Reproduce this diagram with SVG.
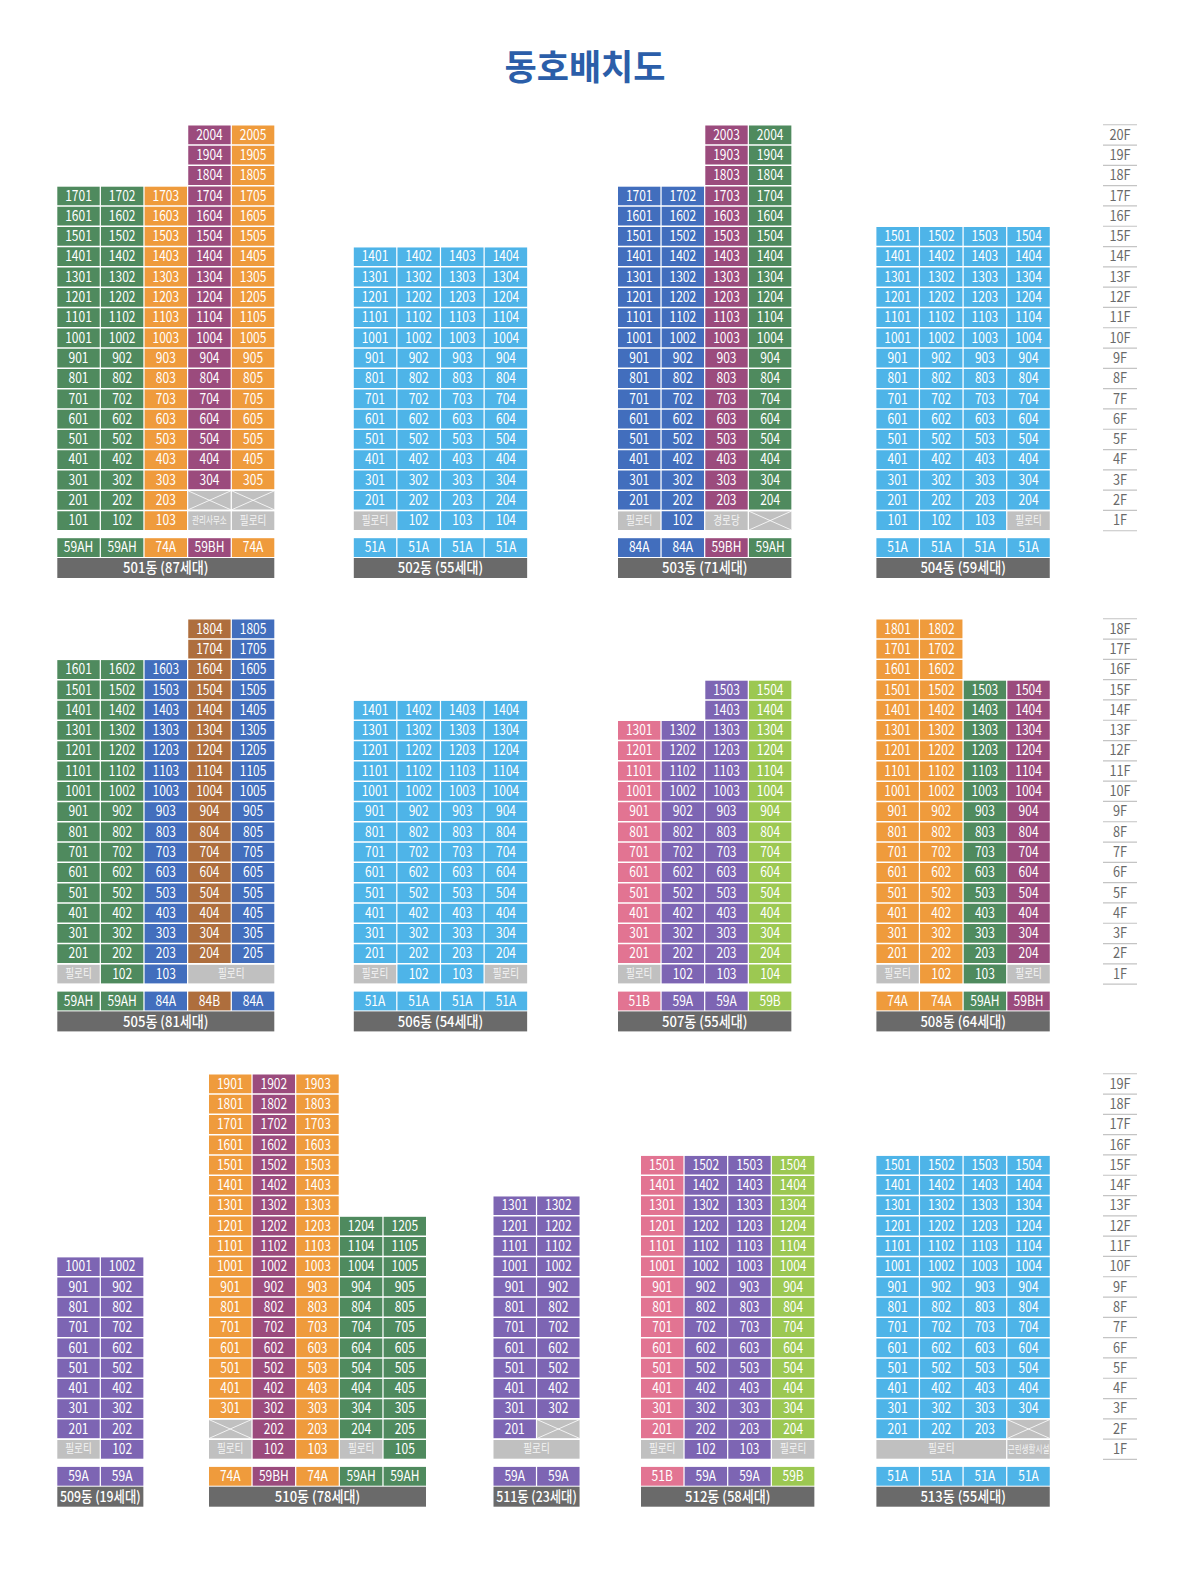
<svg xmlns="http://www.w3.org/2000/svg" xmlns:xlink="http://www.w3.org/1999/xlink" width="1190" height="1576" viewBox="0 0 1190 1576">
<style>
.G{fill:#4f8a5e}.O{fill:#ef9b3c}.M{fill:#9b4b7d}.L{fill:#4eb4e8}.B{fill:#426ebd}.R{fill:#ae6e3d}.V{fill:#7d65b3}.P{fill:#e27492}.Y{fill:#9cc852}.X{fill:#c0c0c0}.K{fill:#6a6a6a}
rect{width:42.4px}
.gap{fill:none;stroke:#fff;stroke-width:1.5}
.fl{stroke:#c4c4c4;stroke-width:1.2}
.bd{font-family:"Noto Sans CJK KR","Liberation Sans",sans-serif;font-size:15px;fill:#fff;text-anchor:middle}
.s{font-size:12px;fill:#f4f4f4}
.ss{font-size:10.5px;fill:#f4f4f4}
.h{font-size:14.5px;font-weight:500}
.fz{font-family:"Noto Sans CJK KR","Liberation Sans",sans-serif;font-size:14.5px;fill:#6a6a6a;text-anchor:middle}
</style>
<defs>
<g id="xb"><rect width="42.4" height="18.8" fill="#c0c0c0"/><path d="M0 0L42.4 18.8M42.4 0L0 18.8" stroke="#fff" stroke-width="0.8"/></g>
</defs>
<rect width="1190" height="1576" fill="#fff" style="width:1190px"/>
<g id="title"><text x="585" y="80" style="font-family:'Noto Sans CJK KR',sans-serif;font-size:35px;font-weight:700;fill:#2b5ea9;text-anchor:middle">동호배치도</text></g>

<!-- 501 -->
<g id="b501" class="bd">
<rect class="G" x="57.3" y="186.4" height="343.6"/>
<rect class="G" x="100.95" y="186.4" height="343.6"/>
<rect class="O" x="144.6" y="186.4" height="343.6"/>
<rect class="M" x="188.25" y="125.5" height="363.9"/>
<rect class="X" x="188.25" y="511.2" height="18.8"/>
<use xlink:href="#xb" x="188.25" y="490.9"/>
<rect class="O" x="231.9" y="125.5" height="363.9"/>
<rect class="X" x="231.9" y="511.2" height="18.8"/>
<use xlink:href="#xb" x="231.9" y="490.9"/>
<rect class="G" x="57.3" y="538.2" height="18.8"/>
<rect class="G" x="100.95" y="538.2" height="18.8"/>
<rect class="O" x="144.6" y="538.2" height="18.8"/>
<rect class="M" x="188.25" y="538.2" height="18.8"/>
<rect class="O" x="231.9" y="538.2" height="18.8"/>
<rect class="K" x="57.3" y="558" style="width:217px" height="20"/>
<g transform="translate(78.5 0)scale(.8 1)"><text y="525.4">101</text><text y="505.1">201</text><text y="484.8">301</text><text y="464.5">401</text><text y="444.2">501</text><text y="423.9">601</text><text y="403.6">701</text><text y="383.3">801</text><text y="363">901</text><text y="342.7">1001</text><text y="322.4">1101</text><text y="302.1">1201</text><text y="281.8">1301</text><text y="261.5">1401</text><text y="241.2">1501</text><text y="220.9">1601</text><text y="200.6">1701</text><text y="552.4">59AH</text></g>
<g transform="translate(122.15 0)scale(.8 1)"><text y="525.4">102</text><text y="505.1">202</text><text y="484.8">302</text><text y="464.5">402</text><text y="444.2">502</text><text y="423.9">602</text><text y="403.6">702</text><text y="383.3">802</text><text y="363">902</text><text y="342.7">1002</text><text y="322.4">1102</text><text y="302.1">1202</text><text y="281.8">1302</text><text y="261.5">1402</text><text y="241.2">1502</text><text y="220.9">1602</text><text y="200.6">1702</text><text y="552.4">59AH</text></g>
<g transform="translate(165.8 0)scale(.8 1)"><text y="525.4">103</text><text y="505.1">203</text><text y="484.8">303</text><text y="464.5">403</text><text y="444.2">503</text><text y="423.9">603</text><text y="403.6">703</text><text y="383.3">803</text><text y="363">903</text><text y="342.7">1003</text><text y="322.4">1103</text><text y="302.1">1203</text><text y="281.8">1303</text><text y="261.5">1403</text><text y="241.2">1503</text><text y="220.9">1603</text><text y="200.6">1703</text><text y="552.4">74A</text></g>
<g transform="translate(209.45 0)scale(.72 1)"><text class="ss" y="524.2">관리사무소</text></g>
<g transform="translate(209.45 0)scale(.8 1)"><text y="484.8">304</text><text y="464.5">404</text><text y="444.2">504</text><text y="423.9">604</text><text y="403.6">704</text><text y="383.3">804</text><text y="363">904</text><text y="342.7">1004</text><text y="322.4">1104</text><text y="302.1">1204</text><text y="281.8">1304</text><text y="261.5">1404</text><text y="241.2">1504</text><text y="220.9">1604</text><text y="200.6">1704</text><text y="180.3">1804</text><text y="160">1904</text><text y="139.7">2004</text><text y="552.4">59BH</text></g>
<g transform="translate(253.1 0)scale(.8 1)"><text class="s" y="524.6">필로티</text><text y="484.8">305</text><text y="464.5">405</text><text y="444.2">505</text><text y="423.9">605</text><text y="403.6">705</text><text y="383.3">805</text><text y="363">905</text><text y="342.7">1005</text><text y="322.4">1105</text><text y="302.1">1205</text><text y="281.8">1305</text><text y="261.5">1405</text><text y="241.2">1505</text><text y="220.9">1605</text><text y="200.6">1705</text><text y="180.3">1805</text><text y="160">1905</text><text y="139.7">2005</text><text y="552.4">74A</text></g>
<text class="h" transform="translate(165.8 0)scale(.9 1)" y="573.2">501동 (87세대)</text>
</g>

<!-- 502 -->
<g id="b502" class="bd">
<rect class="L" x="353.8" y="247.3" height="262.4"/>
<rect class="X" x="353.8" y="511.2" height="18.8"/>
<rect class="L" x="397.45" y="247.3" height="282.7"/>
<rect class="L" x="441.1" y="247.3" height="282.7"/>
<rect class="L" x="484.75" y="247.3" height="282.7"/>
<rect class="L" x="353.8" y="538.2" height="18.8"/>
<rect class="L" x="397.45" y="538.2" height="18.8"/>
<rect class="L" x="441.1" y="538.2" height="18.8"/>
<rect class="L" x="484.75" y="538.2" height="18.8"/>
<rect class="K" x="353.8" y="558" style="width:173.35px" height="20"/>
<g transform="translate(375 0)scale(.8 1)"><text class="s" y="524.6">필로티</text><text y="505.1">201</text><text y="484.8">301</text><text y="464.5">401</text><text y="444.2">501</text><text y="423.9">601</text><text y="403.6">701</text><text y="383.3">801</text><text y="363">901</text><text y="342.7">1001</text><text y="322.4">1101</text><text y="302.1">1201</text><text y="281.8">1301</text><text y="261.5">1401</text><text y="552.4">51A</text></g>
<g transform="translate(418.65 0)scale(.8 1)"><text y="525.4">102</text><text y="505.1">202</text><text y="484.8">302</text><text y="464.5">402</text><text y="444.2">502</text><text y="423.9">602</text><text y="403.6">702</text><text y="383.3">802</text><text y="363">902</text><text y="342.7">1002</text><text y="322.4">1102</text><text y="302.1">1202</text><text y="281.8">1302</text><text y="261.5">1402</text><text y="552.4">51A</text></g>
<g transform="translate(462.3 0)scale(.8 1)"><text y="525.4">103</text><text y="505.1">203</text><text y="484.8">303</text><text y="464.5">403</text><text y="444.2">503</text><text y="423.9">603</text><text y="403.6">703</text><text y="383.3">803</text><text y="363">903</text><text y="342.7">1003</text><text y="322.4">1103</text><text y="302.1">1203</text><text y="281.8">1303</text><text y="261.5">1403</text><text y="552.4">51A</text></g>
<g transform="translate(505.95 0)scale(.8 1)"><text y="525.4">104</text><text y="505.1">204</text><text y="484.8">304</text><text y="464.5">404</text><text y="444.2">504</text><text y="423.9">604</text><text y="403.6">704</text><text y="383.3">804</text><text y="363">904</text><text y="342.7">1004</text><text y="322.4">1104</text><text y="302.1">1204</text><text y="281.8">1304</text><text y="261.5">1404</text><text y="552.4">51A</text></g>
<text class="h" transform="translate(440.5 0)scale(.9 1)" y="573.2">502동 (55세대)</text>
</g>

<!-- 503 -->
<g id="b503" class="bd">
<rect class="B" x="618" y="186.4" height="323.3"/>
<rect class="X" x="618" y="511.2" height="18.8"/>
<rect class="B" x="661.65" y="186.4" height="343.6"/>
<rect class="M" x="705.3" y="125.5" height="384.2"/>
<rect class="X" x="705.3" y="511.2" height="18.8"/>
<rect class="G" x="748.95" y="125.5" height="384.2"/>
<use xlink:href="#xb" x="748.95" y="511.2"/>
<rect class="B" x="618" y="538.2" height="18.8"/>
<rect class="B" x="661.65" y="538.2" height="18.8"/>
<rect class="M" x="705.3" y="538.2" height="18.8"/>
<rect class="G" x="748.95" y="538.2" height="18.8"/>
<rect class="K" x="618" y="558" style="width:173.35px" height="20"/>
<g transform="translate(639.2 0)scale(.8 1)"><text class="s" y="524.6">필로티</text><text y="505.1">201</text><text y="484.8">301</text><text y="464.5">401</text><text y="444.2">501</text><text y="423.9">601</text><text y="403.6">701</text><text y="383.3">801</text><text y="363">901</text><text y="342.7">1001</text><text y="322.4">1101</text><text y="302.1">1201</text><text y="281.8">1301</text><text y="261.5">1401</text><text y="241.2">1501</text><text y="220.9">1601</text><text y="200.6">1701</text><text y="552.4">84A</text></g>
<g transform="translate(682.85 0)scale(.8 1)"><text y="525.4">102</text><text y="505.1">202</text><text y="484.8">302</text><text y="464.5">402</text><text y="444.2">502</text><text y="423.9">602</text><text y="403.6">702</text><text y="383.3">802</text><text y="363">902</text><text y="342.7">1002</text><text y="322.4">1102</text><text y="302.1">1202</text><text y="281.8">1302</text><text y="261.5">1402</text><text y="241.2">1502</text><text y="220.9">1602</text><text y="200.6">1702</text><text y="552.4">84A</text></g>
<g transform="translate(726.5 0)scale(.8 1)"><text class="s" y="524.6">경로당</text><text y="505.1">203</text><text y="484.8">303</text><text y="464.5">403</text><text y="444.2">503</text><text y="423.9">603</text><text y="403.6">703</text><text y="383.3">803</text><text y="363">903</text><text y="342.7">1003</text><text y="322.4">1103</text><text y="302.1">1203</text><text y="281.8">1303</text><text y="261.5">1403</text><text y="241.2">1503</text><text y="220.9">1603</text><text y="200.6">1703</text><text y="180.3">1803</text><text y="160">1903</text><text y="139.7">2003</text><text y="552.4">59BH</text></g>
<g transform="translate(770.15 0)scale(.8 1)"><text y="505.1">204</text><text y="484.8">304</text><text y="464.5">404</text><text y="444.2">504</text><text y="423.9">604</text><text y="403.6">704</text><text y="383.3">804</text><text y="363">904</text><text y="342.7">1004</text><text y="322.4">1104</text><text y="302.1">1204</text><text y="281.8">1304</text><text y="261.5">1404</text><text y="241.2">1504</text><text y="220.9">1604</text><text y="200.6">1704</text><text y="180.3">1804</text><text y="160">1904</text><text y="139.7">2004</text><text y="552.4">59AH</text></g>
<text class="h" transform="translate(704.7 0)scale(.9 1)" y="573.2">503동 (71세대)</text>
</g>

<!-- 504 -->
<g id="b504" class="bd">
<rect class="L" x="876.4" y="227" height="303"/>
<rect class="L" x="920.05" y="227" height="303"/>
<rect class="L" x="963.7" y="227" height="303"/>
<rect class="L" x="1007.35" y="227" height="282.7"/>
<rect class="X" x="1007.35" y="511.2" height="18.8"/>
<rect class="L" x="876.4" y="538.2" height="18.8"/>
<rect class="L" x="920.05" y="538.2" height="18.8"/>
<rect class="L" x="963.7" y="538.2" height="18.8"/>
<rect class="L" x="1007.35" y="538.2" height="18.8"/>
<rect class="K" x="876.4" y="558" style="width:173.35px" height="20"/>
<g transform="translate(897.6 0)scale(.8 1)"><text y="525.4">101</text><text y="505.1">201</text><text y="484.8">301</text><text y="464.5">401</text><text y="444.2">501</text><text y="423.9">601</text><text y="403.6">701</text><text y="383.3">801</text><text y="363">901</text><text y="342.7">1001</text><text y="322.4">1101</text><text y="302.1">1201</text><text y="281.8">1301</text><text y="261.5">1401</text><text y="241.2">1501</text><text y="552.4">51A</text></g>
<g transform="translate(941.25 0)scale(.8 1)"><text y="525.4">102</text><text y="505.1">202</text><text y="484.8">302</text><text y="464.5">402</text><text y="444.2">502</text><text y="423.9">602</text><text y="403.6">702</text><text y="383.3">802</text><text y="363">902</text><text y="342.7">1002</text><text y="322.4">1102</text><text y="302.1">1202</text><text y="281.8">1302</text><text y="261.5">1402</text><text y="241.2">1502</text><text y="552.4">51A</text></g>
<g transform="translate(984.9 0)scale(.8 1)"><text y="525.4">103</text><text y="505.1">203</text><text y="484.8">303</text><text y="464.5">403</text><text y="444.2">503</text><text y="423.9">603</text><text y="403.6">703</text><text y="383.3">803</text><text y="363">903</text><text y="342.7">1003</text><text y="322.4">1103</text><text y="302.1">1203</text><text y="281.8">1303</text><text y="261.5">1403</text><text y="241.2">1503</text><text y="552.4">51A</text></g>
<g transform="translate(1028.55 0)scale(.8 1)"><text class="s" y="524.6">필로티</text><text y="505.1">204</text><text y="484.8">304</text><text y="464.5">404</text><text y="444.2">504</text><text y="423.9">604</text><text y="403.6">704</text><text y="383.3">804</text><text y="363">904</text><text y="342.7">1004</text><text y="322.4">1104</text><text y="302.1">1204</text><text y="281.8">1304</text><text y="261.5">1404</text><text y="241.2">1504</text><text y="552.4">51A</text></g>
<text class="h" transform="translate(963.1 0)scale(.9 1)" y="573.2">504동 (59세대)</text>
</g>

<!-- 505 -->
<g id="b505" class="bd">
<rect class="G" x="57.3" y="660.1" height="303"/>
<rect class="X" x="57.3" y="964.6" height="18.8"/>
<rect class="G" x="100.95" y="660.1" height="323.3"/>
<rect class="B" x="144.6" y="660.1" height="323.3"/>
<rect class="R" x="188.25" y="619.5" height="343.6"/>
<rect class="B" x="231.9" y="619.5" height="343.6"/>
<rect class="X" x="188.25" y="964.6" style="width:86.05px" height="18.8"/>
<rect class="G" x="57.3" y="991.6" height="18.8"/>
<rect class="G" x="100.95" y="991.6" height="18.8"/>
<rect class="B" x="144.6" y="991.6" height="18.8"/>
<rect class="R" x="188.25" y="991.6" height="18.8"/>
<rect class="B" x="231.9" y="991.6" height="18.8"/>
<rect class="K" x="57.3" y="1011.4" style="width:217px" height="20"/>
<g transform="translate(78.5 0)scale(.8 1)"><text class="s" y="978">필로티</text><text y="958.5">201</text><text y="938.2">301</text><text y="917.9">401</text><text y="897.6">501</text><text y="877.3">601</text><text y="857">701</text><text y="836.7">801</text><text y="816.4">901</text><text y="796.1">1001</text><text y="775.8">1101</text><text y="755.5">1201</text><text y="735.2">1301</text><text y="714.9">1401</text><text y="694.6">1501</text><text y="674.3">1601</text><text y="1005.8">59AH</text></g>
<g transform="translate(122.15 0)scale(.8 1)"><text y="978.8">102</text><text y="958.5">202</text><text y="938.2">302</text><text y="917.9">402</text><text y="897.6">502</text><text y="877.3">602</text><text y="857">702</text><text y="836.7">802</text><text y="816.4">902</text><text y="796.1">1002</text><text y="775.8">1102</text><text y="755.5">1202</text><text y="735.2">1302</text><text y="714.9">1402</text><text y="694.6">1502</text><text y="674.3">1602</text><text y="1005.8">59AH</text></g>
<g transform="translate(165.8 0)scale(.8 1)"><text y="978.8">103</text><text y="958.5">203</text><text y="938.2">303</text><text y="917.9">403</text><text y="897.6">503</text><text y="877.3">603</text><text y="857">703</text><text y="836.7">803</text><text y="816.4">903</text><text y="796.1">1003</text><text y="775.8">1103</text><text y="755.5">1203</text><text y="735.2">1303</text><text y="714.9">1403</text><text y="694.6">1503</text><text y="674.3">1603</text><text y="1005.8">84A</text></g>
<g transform="translate(209.45 0)scale(.8 1)"><text y="958.5">204</text><text y="938.2">304</text><text y="917.9">404</text><text y="897.6">504</text><text y="877.3">604</text><text y="857">704</text><text y="836.7">804</text><text y="816.4">904</text><text y="796.1">1004</text><text y="775.8">1104</text><text y="755.5">1204</text><text y="735.2">1304</text><text y="714.9">1404</text><text y="694.6">1504</text><text y="674.3">1604</text><text y="654">1704</text><text y="633.7">1804</text><text y="1005.8">84B</text></g>
<g transform="translate(253.1 0)scale(.8 1)"><text y="958.5">205</text><text y="938.2">305</text><text y="917.9">405</text><text y="897.6">505</text><text y="877.3">605</text><text y="857">705</text><text y="836.7">805</text><text y="816.4">905</text><text y="796.1">1005</text><text y="775.8">1105</text><text y="755.5">1205</text><text y="735.2">1305</text><text y="714.9">1405</text><text y="694.6">1505</text><text y="674.3">1605</text><text y="654">1705</text><text y="633.7">1805</text><text y="1005.8">84A</text></g>
<text class="s" transform="translate(231.25 0)scale(.8 1)" y="978">필로티</text>
<text class="h" transform="translate(165.8 0)scale(.9 1)" y="1026.6">505동 (81세대)</text>
</g>

<!-- 506 -->
<g id="b506" class="bd">
<rect class="L" x="353.8" y="700.7" height="262.4"/>
<rect class="X" x="353.8" y="964.6" height="18.8"/>
<rect class="L" x="397.45" y="700.7" height="282.7"/>
<rect class="L" x="441.1" y="700.7" height="282.7"/>
<rect class="L" x="484.75" y="700.7" height="262.4"/>
<rect class="X" x="484.75" y="964.6" height="18.8"/>
<rect class="L" x="353.8" y="991.6" height="18.8"/>
<rect class="L" x="397.45" y="991.6" height="18.8"/>
<rect class="L" x="441.1" y="991.6" height="18.8"/>
<rect class="L" x="484.75" y="991.6" height="18.8"/>
<rect class="K" x="353.8" y="1011.4" style="width:173.35px" height="20"/>
<g transform="translate(375 0)scale(.8 1)"><text class="s" y="978">필로티</text><text y="958.5">201</text><text y="938.2">301</text><text y="917.9">401</text><text y="897.6">501</text><text y="877.3">601</text><text y="857">701</text><text y="836.7">801</text><text y="816.4">901</text><text y="796.1">1001</text><text y="775.8">1101</text><text y="755.5">1201</text><text y="735.2">1301</text><text y="714.9">1401</text><text y="1005.8">51A</text></g>
<g transform="translate(418.65 0)scale(.8 1)"><text y="978.8">102</text><text y="958.5">202</text><text y="938.2">302</text><text y="917.9">402</text><text y="897.6">502</text><text y="877.3">602</text><text y="857">702</text><text y="836.7">802</text><text y="816.4">902</text><text y="796.1">1002</text><text y="775.8">1102</text><text y="755.5">1202</text><text y="735.2">1302</text><text y="714.9">1402</text><text y="1005.8">51A</text></g>
<g transform="translate(462.3 0)scale(.8 1)"><text y="978.8">103</text><text y="958.5">203</text><text y="938.2">303</text><text y="917.9">403</text><text y="897.6">503</text><text y="877.3">603</text><text y="857">703</text><text y="836.7">803</text><text y="816.4">903</text><text y="796.1">1003</text><text y="775.8">1103</text><text y="755.5">1203</text><text y="735.2">1303</text><text y="714.9">1403</text><text y="1005.8">51A</text></g>
<g transform="translate(505.95 0)scale(.8 1)"><text class="s" y="978">필로티</text><text y="958.5">204</text><text y="938.2">304</text><text y="917.9">404</text><text y="897.6">504</text><text y="877.3">604</text><text y="857">704</text><text y="836.7">804</text><text y="816.4">904</text><text y="796.1">1004</text><text y="775.8">1104</text><text y="755.5">1204</text><text y="735.2">1304</text><text y="714.9">1404</text><text y="1005.8">51A</text></g>
<text class="h" transform="translate(440.5 0)scale(.9 1)" y="1026.6">506동 (54세대)</text>
</g>

<!-- 507 -->
<g id="b507" class="bd">
<rect class="P" x="618" y="721" height="242.1"/>
<rect class="X" x="618" y="964.6" height="18.8"/>
<rect class="V" x="661.65" y="721" height="262.4"/>
<rect class="V" x="705.3" y="680.4" height="303"/>
<rect class="Y" x="748.95" y="680.4" height="303"/>
<rect class="P" x="618" y="991.6" height="18.8"/>
<rect class="V" x="661.65" y="991.6" height="18.8"/>
<rect class="V" x="705.3" y="991.6" height="18.8"/>
<rect class="Y" x="748.95" y="991.6" height="18.8"/>
<rect class="K" x="618" y="1011.4" style="width:173.35px" height="20"/>
<g transform="translate(639.2 0)scale(.8 1)"><text class="s" y="978">필로티</text><text y="958.5">201</text><text y="938.2">301</text><text y="917.9">401</text><text y="897.6">501</text><text y="877.3">601</text><text y="857">701</text><text y="836.7">801</text><text y="816.4">901</text><text y="796.1">1001</text><text y="775.8">1101</text><text y="755.5">1201</text><text y="735.2">1301</text><text y="1005.8">51B</text></g>
<g transform="translate(682.85 0)scale(.8 1)"><text y="978.8">102</text><text y="958.5">202</text><text y="938.2">302</text><text y="917.9">402</text><text y="897.6">502</text><text y="877.3">602</text><text y="857">702</text><text y="836.7">802</text><text y="816.4">902</text><text y="796.1">1002</text><text y="775.8">1102</text><text y="755.5">1202</text><text y="735.2">1302</text><text y="1005.8">59A</text></g>
<g transform="translate(726.5 0)scale(.8 1)"><text y="978.8">103</text><text y="958.5">203</text><text y="938.2">303</text><text y="917.9">403</text><text y="897.6">503</text><text y="877.3">603</text><text y="857">703</text><text y="836.7">803</text><text y="816.4">903</text><text y="796.1">1003</text><text y="775.8">1103</text><text y="755.5">1203</text><text y="735.2">1303</text><text y="714.9">1403</text><text y="694.6">1503</text><text y="1005.8">59A</text></g>
<g transform="translate(770.15 0)scale(.8 1)"><text y="978.8">104</text><text y="958.5">204</text><text y="938.2">304</text><text y="917.9">404</text><text y="897.6">504</text><text y="877.3">604</text><text y="857">704</text><text y="836.7">804</text><text y="816.4">904</text><text y="796.1">1004</text><text y="775.8">1104</text><text y="755.5">1204</text><text y="735.2">1304</text><text y="714.9">1404</text><text y="694.6">1504</text><text y="1005.8">59B</text></g>
<text class="h" transform="translate(704.7 0)scale(.9 1)" y="1026.6">507동 (55세대)</text>
</g>

<!-- 508 -->
<g id="b508" class="bd">
<rect class="O" x="876.4" y="619.5" height="343.6"/>
<rect class="X" x="876.4" y="964.6" height="18.8"/>
<rect class="O" x="920.05" y="619.5" height="363.9"/>
<rect class="G" x="963.7" y="680.4" height="303"/>
<rect class="M" x="1007.35" y="680.4" height="282.7"/>
<rect class="X" x="1007.35" y="964.6" height="18.8"/>
<rect class="O" x="876.4" y="991.6" height="18.8"/>
<rect class="O" x="920.05" y="991.6" height="18.8"/>
<rect class="G" x="963.7" y="991.6" height="18.8"/>
<rect class="M" x="1007.35" y="991.6" height="18.8"/>
<rect class="K" x="876.4" y="1011.4" style="width:173.35px" height="20"/>
<g transform="translate(897.6 0)scale(.8 1)"><text class="s" y="978">필로티</text><text y="958.5">201</text><text y="938.2">301</text><text y="917.9">401</text><text y="897.6">501</text><text y="877.3">601</text><text y="857">701</text><text y="836.7">801</text><text y="816.4">901</text><text y="796.1">1001</text><text y="775.8">1101</text><text y="755.5">1201</text><text y="735.2">1301</text><text y="714.9">1401</text><text y="694.6">1501</text><text y="674.3">1601</text><text y="654">1701</text><text y="633.7">1801</text><text y="1005.8">74A</text></g>
<g transform="translate(941.25 0)scale(.8 1)"><text y="978.8">102</text><text y="958.5">202</text><text y="938.2">302</text><text y="917.9">402</text><text y="897.6">502</text><text y="877.3">602</text><text y="857">702</text><text y="836.7">802</text><text y="816.4">902</text><text y="796.1">1002</text><text y="775.8">1102</text><text y="755.5">1202</text><text y="735.2">1302</text><text y="714.9">1402</text><text y="694.6">1502</text><text y="674.3">1602</text><text y="654">1702</text><text y="633.7">1802</text><text y="1005.8">74A</text></g>
<g transform="translate(984.9 0)scale(.8 1)"><text y="978.8">103</text><text y="958.5">203</text><text y="938.2">303</text><text y="917.9">403</text><text y="897.6">503</text><text y="877.3">603</text><text y="857">703</text><text y="836.7">803</text><text y="816.4">903</text><text y="796.1">1003</text><text y="775.8">1103</text><text y="755.5">1203</text><text y="735.2">1303</text><text y="714.9">1403</text><text y="694.6">1503</text><text y="1005.8">59AH</text></g>
<g transform="translate(1028.55 0)scale(.8 1)"><text class="s" y="978">필로티</text><text y="958.5">204</text><text y="938.2">304</text><text y="917.9">404</text><text y="897.6">504</text><text y="877.3">604</text><text y="857">704</text><text y="836.7">804</text><text y="816.4">904</text><text y="796.1">1004</text><text y="775.8">1104</text><text y="755.5">1204</text><text y="735.2">1304</text><text y="714.9">1404</text><text y="694.6">1504</text><text y="1005.8">59BH</text></g>
<text class="h" transform="translate(963.1 0)scale(.9 1)" y="1026.6">508동 (64세대)</text>
</g>

<!-- 509 -->
<g id="b509" class="bd">
<rect class="V" x="57.3" y="1257.2" height="181.2"/>
<rect class="X" x="57.3" y="1439.9" height="18.8"/>
<rect class="V" x="100.95" y="1257.2" height="201.5"/>
<rect class="V" x="57.3" y="1466.9" height="18.8"/>
<rect class="V" x="100.95" y="1466.9" height="18.8"/>
<rect class="K" x="57.3" y="1486.7" style="width:86.05px" height="20"/>
<g transform="translate(78.5 0)scale(.8 1)"><text class="s" y="1453.3">필로티</text><text y="1433.8">201</text><text y="1413.5">301</text><text y="1393.2">401</text><text y="1372.9">501</text><text y="1352.6">601</text><text y="1332.3">701</text><text y="1312">801</text><text y="1291.7">901</text><text y="1271.4">1001</text><text y="1481.1">59A</text></g>
<g transform="translate(122.15 0)scale(.8 1)"><text y="1454.1">102</text><text y="1433.8">202</text><text y="1413.5">302</text><text y="1393.2">402</text><text y="1372.9">502</text><text y="1352.6">602</text><text y="1332.3">702</text><text y="1312">802</text><text y="1291.7">902</text><text y="1271.4">1002</text><text y="1481.1">59A</text></g>
<text class="h" transform="translate(100.3 0)scale(.85 1)" y="1501.9">509동 (19세대)</text>
</g>

<!-- 510 -->
<g id="b510" class="bd">
<rect class="O" x="209" y="1074.5" height="343.6"/>
<use xlink:href="#xb" x="209" y="1419.6"/>
<rect class="X" x="209" y="1439.9" height="18.8"/>
<rect class="M" x="252.65" y="1074.5" height="384.2"/>
<rect class="O" x="296.3" y="1074.5" height="384.2"/>
<rect class="G" x="339.95" y="1216.6" height="221.8"/>
<rect class="X" x="339.95" y="1439.9" height="18.8"/>
<rect class="G" x="383.6" y="1216.6" height="242.1"/>
<rect class="O" x="209" y="1466.9" height="18.8"/>
<rect class="M" x="252.65" y="1466.9" height="18.8"/>
<rect class="O" x="296.3" y="1466.9" height="18.8"/>
<rect class="G" x="339.95" y="1466.9" height="18.8"/>
<rect class="G" x="383.6" y="1466.9" height="18.8"/>
<rect class="K" x="209" y="1486.7" style="width:217px" height="20"/>
<g transform="translate(230.2 0)scale(.8 1)"><text class="s" y="1453.3">필로티</text><text y="1413.5">301</text><text y="1393.2">401</text><text y="1372.9">501</text><text y="1352.6">601</text><text y="1332.3">701</text><text y="1312">801</text><text y="1291.7">901</text><text y="1271.4">1001</text><text y="1251.1">1101</text><text y="1230.8">1201</text><text y="1210.5">1301</text><text y="1190.2">1401</text><text y="1169.9">1501</text><text y="1149.6">1601</text><text y="1129.3">1701</text><text y="1109">1801</text><text y="1088.7">1901</text><text y="1481.1">74A</text></g>
<g transform="translate(273.85 0)scale(.8 1)"><text y="1454.1">102</text><text y="1433.8">202</text><text y="1413.5">302</text><text y="1393.2">402</text><text y="1372.9">502</text><text y="1352.6">602</text><text y="1332.3">702</text><text y="1312">802</text><text y="1291.7">902</text><text y="1271.4">1002</text><text y="1251.1">1102</text><text y="1230.8">1202</text><text y="1210.5">1302</text><text y="1190.2">1402</text><text y="1169.9">1502</text><text y="1149.6">1602</text><text y="1129.3">1702</text><text y="1109">1802</text><text y="1088.7">1902</text><text y="1481.1">59BH</text></g>
<g transform="translate(317.5 0)scale(.8 1)"><text y="1454.1">103</text><text y="1433.8">203</text><text y="1413.5">303</text><text y="1393.2">403</text><text y="1372.9">503</text><text y="1352.6">603</text><text y="1332.3">703</text><text y="1312">803</text><text y="1291.7">903</text><text y="1271.4">1003</text><text y="1251.1">1103</text><text y="1230.8">1203</text><text y="1210.5">1303</text><text y="1190.2">1403</text><text y="1169.9">1503</text><text y="1149.6">1603</text><text y="1129.3">1703</text><text y="1109">1803</text><text y="1088.7">1903</text><text y="1481.1">74A</text></g>
<g transform="translate(361.15 0)scale(.8 1)"><text class="s" y="1453.3">필로티</text><text y="1433.8">204</text><text y="1413.5">304</text><text y="1393.2">404</text><text y="1372.9">504</text><text y="1352.6">604</text><text y="1332.3">704</text><text y="1312">804</text><text y="1291.7">904</text><text y="1271.4">1004</text><text y="1251.1">1104</text><text y="1230.8">1204</text><text y="1481.1">59AH</text></g>
<g transform="translate(404.8 0)scale(.8 1)"><text y="1454.1">105</text><text y="1433.8">205</text><text y="1413.5">305</text><text y="1393.2">405</text><text y="1372.9">505</text><text y="1352.6">605</text><text y="1332.3">705</text><text y="1312">805</text><text y="1291.7">905</text><text y="1271.4">1005</text><text y="1251.1">1105</text><text y="1230.8">1205</text><text y="1481.1">59AH</text></g>
<text class="h" transform="translate(317.5 0)scale(.9 1)" y="1501.9">510동 (78세대)</text>
</g>

<!-- 511 -->
<g id="b511" class="bd">
<rect class="V" x="493.5" y="1196.3" height="242.1"/>
<rect class="V" x="537.15" y="1196.3" height="221.8"/>
<use xlink:href="#xb" x="537.15" y="1419.6"/>
<rect class="X" x="493.5" y="1439.9" style="width:86.05px" height="18.8"/>
<rect class="V" x="493.5" y="1466.9" height="18.8"/>
<rect class="V" x="537.15" y="1466.9" height="18.8"/>
<rect class="K" x="493.5" y="1486.7" style="width:86.05px" height="20"/>
<g transform="translate(514.7 0)scale(.8 1)"><text y="1433.8">201</text><text y="1413.5">301</text><text y="1393.2">401</text><text y="1372.9">501</text><text y="1352.6">601</text><text y="1332.3">701</text><text y="1312">801</text><text y="1291.7">901</text><text y="1271.4">1001</text><text y="1251.1">1101</text><text y="1230.8">1201</text><text y="1210.5">1301</text><text y="1481.1">59A</text></g>
<g transform="translate(558.35 0)scale(.8 1)"><text y="1413.5">302</text><text y="1393.2">402</text><text y="1372.9">502</text><text y="1352.6">602</text><text y="1332.3">702</text><text y="1312">802</text><text y="1291.7">902</text><text y="1271.4">1002</text><text y="1251.1">1102</text><text y="1230.8">1202</text><text y="1210.5">1302</text><text y="1481.1">59A</text></g>
<text class="s" transform="translate(536.5 0)scale(.8 1)" y="1453.3">필로티</text>
<text class="h" transform="translate(536.5 0)scale(.85 1)" y="1501.9">511동 (23세대)</text>
</g>

<!-- 512 -->
<g id="b512" class="bd">
<rect class="P" x="641" y="1155.7" height="282.7"/>
<rect class="X" x="641" y="1439.9" height="18.8"/>
<rect class="V" x="684.65" y="1155.7" height="303"/>
<rect class="V" x="728.3" y="1155.7" height="303"/>
<rect class="Y" x="771.95" y="1155.7" height="282.7"/>
<rect class="X" x="771.95" y="1439.9" height="18.8"/>
<rect class="P" x="641" y="1466.9" height="18.8"/>
<rect class="V" x="684.65" y="1466.9" height="18.8"/>
<rect class="V" x="728.3" y="1466.9" height="18.8"/>
<rect class="Y" x="771.95" y="1466.9" height="18.8"/>
<rect class="K" x="641" y="1486.7" style="width:173.35px" height="20"/>
<g transform="translate(662.2 0)scale(.8 1)"><text class="s" y="1453.3">필로티</text><text y="1433.8">201</text><text y="1413.5">301</text><text y="1393.2">401</text><text y="1372.9">501</text><text y="1352.6">601</text><text y="1332.3">701</text><text y="1312">801</text><text y="1291.7">901</text><text y="1271.4">1001</text><text y="1251.1">1101</text><text y="1230.8">1201</text><text y="1210.5">1301</text><text y="1190.2">1401</text><text y="1169.9">1501</text><text y="1481.1">51B</text></g>
<g transform="translate(705.85 0)scale(.8 1)"><text y="1454.1">102</text><text y="1433.8">202</text><text y="1413.5">302</text><text y="1393.2">402</text><text y="1372.9">502</text><text y="1352.6">602</text><text y="1332.3">702</text><text y="1312">802</text><text y="1291.7">902</text><text y="1271.4">1002</text><text y="1251.1">1102</text><text y="1230.8">1202</text><text y="1210.5">1302</text><text y="1190.2">1402</text><text y="1169.9">1502</text><text y="1481.1">59A</text></g>
<g transform="translate(749.5 0)scale(.8 1)"><text y="1454.1">103</text><text y="1433.8">203</text><text y="1413.5">303</text><text y="1393.2">403</text><text y="1372.9">503</text><text y="1352.6">603</text><text y="1332.3">703</text><text y="1312">803</text><text y="1291.7">903</text><text y="1271.4">1003</text><text y="1251.1">1103</text><text y="1230.8">1203</text><text y="1210.5">1303</text><text y="1190.2">1403</text><text y="1169.9">1503</text><text y="1481.1">59A</text></g>
<g transform="translate(793.15 0)scale(.8 1)"><text class="s" y="1453.3">필로티</text><text y="1433.8">204</text><text y="1413.5">304</text><text y="1393.2">404</text><text y="1372.9">504</text><text y="1352.6">604</text><text y="1332.3">704</text><text y="1312">804</text><text y="1291.7">904</text><text y="1271.4">1004</text><text y="1251.1">1104</text><text y="1230.8">1204</text><text y="1210.5">1304</text><text y="1190.2">1404</text><text y="1169.9">1504</text><text y="1481.1">59B</text></g>
<text class="h" transform="translate(727.7 0)scale(.9 1)" y="1501.9">512동 (58세대)</text>
</g>

<!-- 513 -->
<g id="b513" class="bd">
<rect class="L" x="876.4" y="1155.7" height="282.7"/>
<rect class="L" x="920.05" y="1155.7" height="282.7"/>
<rect class="L" x="963.7" y="1155.7" height="282.7"/>
<rect class="L" x="1007.35" y="1155.7" height="262.4"/>
<use xlink:href="#xb" x="1007.35" y="1419.6"/>
<rect class="X" x="876.4" y="1439.9" style="width:129.7px" height="18.8"/>
<rect class="X" x="1007.35" y="1439.9" height="18.8"/>
<rect class="L" x="876.4" y="1466.9" height="18.8"/>
<rect class="L" x="920.05" y="1466.9" height="18.8"/>
<rect class="L" x="963.7" y="1466.9" height="18.8"/>
<rect class="L" x="1007.35" y="1466.9" height="18.8"/>
<rect class="K" x="876.4" y="1486.7" style="width:173.35px" height="20"/>
<g transform="translate(897.6 0)scale(.8 1)"><text y="1433.8">201</text><text y="1413.5">301</text><text y="1393.2">401</text><text y="1372.9">501</text><text y="1352.6">601</text><text y="1332.3">701</text><text y="1312">801</text><text y="1291.7">901</text><text y="1271.4">1001</text><text y="1251.1">1101</text><text y="1230.8">1201</text><text y="1210.5">1301</text><text y="1190.2">1401</text><text y="1169.9">1501</text><text y="1481.1">51A</text></g>
<g transform="translate(941.25 0)scale(.8 1)"><text y="1433.8">202</text><text y="1413.5">302</text><text y="1393.2">402</text><text y="1372.9">502</text><text y="1352.6">602</text><text y="1332.3">702</text><text y="1312">802</text><text y="1291.7">902</text><text y="1271.4">1002</text><text y="1251.1">1102</text><text y="1230.8">1202</text><text y="1210.5">1302</text><text y="1190.2">1402</text><text y="1169.9">1502</text><text y="1481.1">51A</text><text class="s" y="1453.3">필로티</text></g>
<g transform="translate(984.9 0)scale(.8 1)"><text y="1433.8">203</text><text y="1413.5">303</text><text y="1393.2">403</text><text y="1372.9">503</text><text y="1352.6">603</text><text y="1332.3">703</text><text y="1312">803</text><text y="1291.7">903</text><text y="1271.4">1003</text><text y="1251.1">1103</text><text y="1230.8">1203</text><text y="1210.5">1303</text><text y="1190.2">1403</text><text y="1169.9">1503</text><text y="1481.1">51A</text></g>
<g transform="translate(1028.55 0)scale(.72 1)"><text class="ss" y="1452.9">근린생활시설</text></g>
<g transform="translate(1028.55 0)scale(.8 1)"><text y="1413.5">304</text><text y="1393.2">404</text><text y="1372.9">504</text><text y="1352.6">604</text><text y="1332.3">704</text><text y="1312">804</text><text y="1291.7">904</text><text y="1271.4">1004</text><text y="1251.1">1104</text><text y="1230.8">1204</text><text y="1210.5">1304</text><text y="1190.2">1404</text><text y="1169.9">1504</text><text y="1481.1">51A</text></g>
<text class="h" transform="translate(963.1 0)scale(.9 1)" y="1501.9">513동 (55세대)</text>
</g>

<g id="gaps" class="gap">
<path d="M50 510.45H1060M50 490.15H1060M50 469.85H1060M50 449.55H1060M50 429.25H1060M50 408.95H1060M50 388.65H1060M50 368.35H1060M50 348.05H1060M50 327.75H1060M50 307.45H1060M50 287.15H1060M50 266.85H1060M50 246.55H1060M50 226.25H1060M50 205.95H1060M50 185.65H1060M50 165.35H1060M50 145.05H1060"/>
<path d="M50 963.85H1060M50 943.55H1060M50 923.25H1060M50 902.95H1060M50 882.65H1060M50 862.35H1060M50 842.05H1060M50 821.75H1060M50 801.45H1060M50 781.15H1060M50 760.85H1060M50 740.55H1060M50 720.25H1060M50 699.95H1060M50 679.65H1060M50 659.35H1060M50 639.05H1060"/>
<path d="M50 1439.15H1060M50 1418.85H1060M50 1398.55H1060M50 1378.25H1060M50 1357.95H1060M50 1337.65H1060M50 1317.35H1060M50 1297.05H1060M50 1276.75H1060M50 1256.45H1060M50 1236.15H1060M50 1215.85H1060M50 1195.55H1060M50 1175.25H1060M50 1154.95H1060M50 1134.65H1060M50 1114.35H1060M50 1094.05H1060"/>
</g>

<g id="floors">
<path class="fl" d="M1103 124.75H1137M1103 145.05H1137M1103 165.35H1137M1103 185.65H1137M1103 205.95H1137M1103 226.25H1137M1103 246.55H1137M1103 266.85H1137M1103 287.15H1137M1103 307.45H1137M1103 327.75H1137M1103 348.05H1137M1103 368.35H1137M1103 388.65H1137M1103 408.95H1137M1103 429.25H1137M1103 449.55H1137M1103 469.85H1137M1103 490.15H1137M1103 510.45H1137M1103 530.75H1137"/>
<path class="fl" d="M1103 618.75H1137M1103 639.05H1137M1103 659.35H1137M1103 679.65H1137M1103 699.95H1137M1103 720.25H1137M1103 740.55H1137M1103 760.85H1137M1103 781.15H1137M1103 801.45H1137M1103 821.75H1137M1103 842.05H1137M1103 862.35H1137M1103 882.65H1137M1103 902.95H1137M1103 923.25H1137M1103 943.55H1137M1103 963.85H1137M1103 984.15H1137"/>
<path class="fl" d="M1103 1073.75H1137M1103 1094.05H1137M1103 1114.35H1137M1103 1134.65H1137M1103 1154.95H1137M1103 1175.25H1137M1103 1195.55H1137M1103 1215.85H1137M1103 1236.15H1137M1103 1256.45H1137M1103 1276.75H1137M1103 1297.05H1137M1103 1317.35H1137M1103 1337.65H1137M1103 1357.95H1137M1103 1378.25H1137M1103 1398.55H1137M1103 1418.85H1137M1103 1439.15H1137M1103 1459.45H1137"/>
<g class="fz" transform="translate(1120 0)scale(.88 1)">
<text y="139.7">20F</text><text y="160">19F</text><text y="180.3">18F</text><text y="200.6">17F</text><text y="220.9">16F</text><text y="241.2">15F</text><text y="261.5">14F</text><text y="281.8">13F</text><text y="302.1">12F</text><text y="322.4">11F</text><text y="342.7">10F</text><text y="363">9F</text><text y="383.3">8F</text><text y="403.6">7F</text><text y="423.9">6F</text><text y="444.2">5F</text><text y="464.5">4F</text><text y="484.8">3F</text><text y="505.1">2F</text><text y="525.4">1F</text>
<text y="633.7">18F</text><text y="654">17F</text><text y="674.3">16F</text><text y="694.6">15F</text><text y="714.9">14F</text><text y="735.2">13F</text><text y="755.5">12F</text><text y="775.8">11F</text><text y="796.1">10F</text><text y="816.4">9F</text><text y="836.7">8F</text><text y="857">7F</text><text y="877.3">6F</text><text y="897.6">5F</text><text y="917.9">4F</text><text y="938.2">3F</text><text y="958.5">2F</text><text y="978.8">1F</text>
<text y="1088.7">19F</text><text y="1109">18F</text><text y="1129.3">17F</text><text y="1149.6">16F</text><text y="1169.9">15F</text><text y="1190.2">14F</text><text y="1210.5">13F</text><text y="1230.8">12F</text><text y="1251.1">11F</text><text y="1271.4">10F</text><text y="1291.7">9F</text><text y="1312">8F</text><text y="1332.3">7F</text><text y="1352.6">6F</text><text y="1372.9">5F</text><text y="1393.2">4F</text><text y="1413.5">3F</text><text y="1433.8">2F</text><text y="1454.1">1F</text>
</g>
</g>
</svg>
